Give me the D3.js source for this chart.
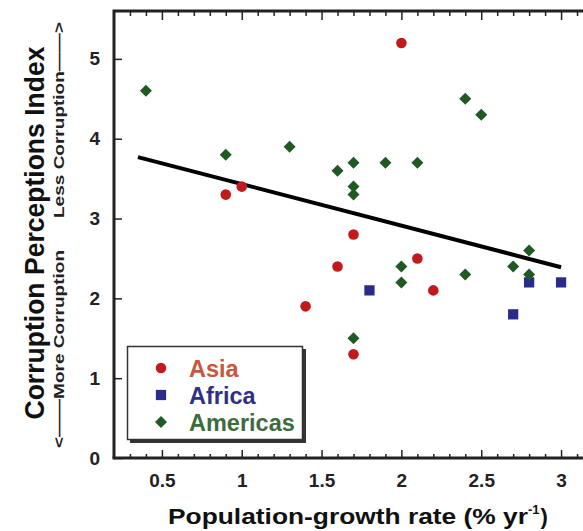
<!DOCTYPE html>
<html><head><meta charset="utf-8">
<script src="https://cdn.jsdelivr.net/npm/d3@7"></script>
<style>body{margin:0;background:#fff}svg{display:block}</style>
</head><body>
<svg id="c" width="583" height="531"></svg>
<script>
const asiaX = [2.0, 0.9, 1.0, 1.7, 1.6, 2.1, 2.2, 1.4, 1.7];
const asiaY = [5.2, 3.3, 3.4, 2.8, 2.4, 2.5, 2.1, 1.9, 1.3];
const africaX = [1.8, 2.7, 2.8, 3.0];
const africaY = [2.1, 1.8, 2.2, 2.2];
const americasX = [0.4, 0.9, 1.3, 1.6, 1.7, 1.7, 1.7, 1.9, 2.1, 2.4, 2.5, 2.0, 2.0, 2.4, 2.7, 2.8, 2.8, 1.7];
const americasY = [4.6, 3.8, 3.9, 3.6, 3.7, 3.4, 3.3, 3.7, 3.7, 4.5, 4.3, 2.4, 2.2, 2.3, 2.4, 2.6, 2.3, 1.5];
const trendX = [0.35, 3.0];
const trendY = [3.77, 2.39];
const xTicks = [0.5, 1, 1.5, 2, 2.5, 3];
const yTicks = [0, 1, 2, 3, 4, 5];
const seriesNames = ["Asia", "Africa", "Americas"];

const svg = d3.select("#c");
const L = 114, T = 11, R = 593, B = 458;
const x = d3.scaleLinear().domain([0.2, 3.2]).range([L, R]);
const y = d3.scaleLinear().domain([0, 5.6]).range([B, T]);

const font = "'Liberation Sans', Arial, sans-serif";
const minorX = d3.range(3, 32).map(d => d / 10);
const isMajor = d => xTicks.some(t => Math.abs(t-d)<1e-6);

// frame
svg.append("path").attr("d", `M${L},${B}V${T}H${R}`).attr("fill","none").attr("stroke","#222").attr("stroke-width",3);
svg.append("line").attr("x1",L-1.5).attr("x2",R).attr("y1",B).attr("y2",B).attr("stroke","#222").attr("stroke-width",3);

// bottom axis
const xb = svg.append("g").attr("transform",`translate(0,${B})`)
  .call(d3.axisBottom(x).tickValues(minorX).tickSize(-4).tickFormat(""));
xb.select(".domain").remove();
xb.selectAll("line").attr("stroke","#222").attr("stroke-width",1.5)
  .attr("y2", d => isMajor(d) ? -8 : -4);
const xl = svg.append("g").attr("transform",`translate(0,${B})`)
  .call(d3.axisBottom(x).tickValues(xTicks).tickSize(0).tickPadding(16).tickFormat(d3.format("")));
xl.select(".domain").remove();
xl.selectAll("text").attr("font-family",font).attr("font-weight","bold").attr("font-size",19).attr("fill","#222");

// top axis
const xt = svg.append("g").attr("transform",`translate(0,${T})`)
  .call(d3.axisTop(x).tickValues(minorX).tickSize(-4).tickFormat(""));
xt.select(".domain").remove();
xt.selectAll("line").attr("stroke","#222").attr("stroke-width",1.5)
  .attr("y2", d => isMajor(d) ? 9 : 5);

// left axis
const yl = svg.append("g").attr("transform",`translate(${L},0)`)
  .call(d3.axisLeft(y).tickValues(yTicks).tickSize(-8).tickPadding(14).tickFormat(d3.format("")));
yl.select(".domain").remove();
yl.selectAll("line").attr("stroke","#222").attr("stroke-width",1.5);
yl.selectAll("text").attr("font-family",font).attr("font-weight","bold").attr("font-size",19).attr("fill","#222");

// trend line
svg.append("path").datum(d3.zip(trendX, trendY))
  .attr("d", d3.line().x(d => x(d[0])).y(d => y(d[1])))
  .attr("stroke","#000").attr("stroke-width",4).attr("fill","none");

const colors = {Asia:"#c21a1a", Africa:"#2b2b8c", Americas:"#1f5a22"};
const textColors = {Asia:"#c9563a", Africa:"#2f2f85", Americas:"#3e6b3e"};
const shapes = {Asia:d3.symbolCircle, Africa:d3.symbolSquare, Americas:d3.symbolSquare};
const rot = {Asia:0, Africa:0, Americas:45};
const sizes = {Asia:88, Africa:105, Americas:72};
const data = [
  {name:"Asia", pts:d3.zip(asiaX, asiaY)},
  {name:"Africa", pts:d3.zip(africaX, africaY)},
  {name:"Americas", pts:d3.zip(americasX, americasY)}
];
data.forEach(s => {
  svg.append("g").selectAll("path").data(s.pts).join("path")
    .attr("transform", d => `translate(${x(d[0])},${y(d[1])}) rotate(${rot[s.name]})`)
    .attr("d", d3.symbol().type(shapes[s.name]).size(sizes[s.name]))
    .attr("fill", colors[s.name]);
});

// legend
const lg = svg.append("g");
lg.append("rect").attr("x",130).attr("y",349).attr("width",176).attr("height",94).attr("fill","#333");
lg.append("rect").attr("x",127.5).attr("y",346.5).attr("width",175).attr("height",93).attr("fill","#fff").attr("stroke","#333").attr("stroke-width",1.5);
seriesNames.forEach((n,i) => {
  const yy = 368 + i*27;
  lg.append("path").attr("transform",`translate(161,${yy}) rotate(${rot[n]})`)
    .attr("d", d3.symbol().type(shapes[n]).size(sizes[n])).attr("fill", colors[n]);
  lg.append("text").attr("x",189).attr("y",yy+8.5).text(n)
    .attr("font-family",font).attr("font-weight","bold").attr("font-size",23.5).attr("fill",textColors[n]);
});

// axis titles
const xtitle = svg.append("text").attr("x",168).attr("y",524)
  .attr("font-family",font).attr("font-weight","bold").attr("font-size",22).attr("fill","#111");
xtitle.append("tspan").text("Population-growth rate (% yr").attr("textLength",360).attr("lengthAdjust","spacingAndGlyphs");
xtitle.append("tspan").text("-1").attr("font-size",13).attr("dy",-10);
xtitle.append("tspan").text(")").attr("dy",10).attr("dx",1);

svg.append("text").attr("transform","translate(44,233) rotate(-90)").attr("text-anchor","middle")
  .attr("font-family",font).attr("font-weight","bold").attr("font-size",27).attr("fill","#111")
  .attr("textLength",373).attr("lengthAdjust","spacingAndGlyphs")
  .text("Corruption Perceptions Index");
svg.append("text").attr("transform","translate(64,120) rotate(-90)").attr("text-anchor","middle")
  .attr("font-family",font).attr("font-weight","bold").attr("font-size",15).attr("fill","#222")
  .attr("textLength",196).attr("lengthAdjust","spacingAndGlyphs")
  .text("Less Corruption\u2014\u2014>");
svg.append("text").attr("transform","translate(64,349) rotate(-90)").attr("text-anchor","middle")
  .attr("font-family",font).attr("font-weight","bold").attr("font-size",15).attr("fill","#222")
  .attr("textLength",198).attr("lengthAdjust","spacingAndGlyphs")
  .text("<\u2014\u2014More Corruption");
</script>
</body></html>
